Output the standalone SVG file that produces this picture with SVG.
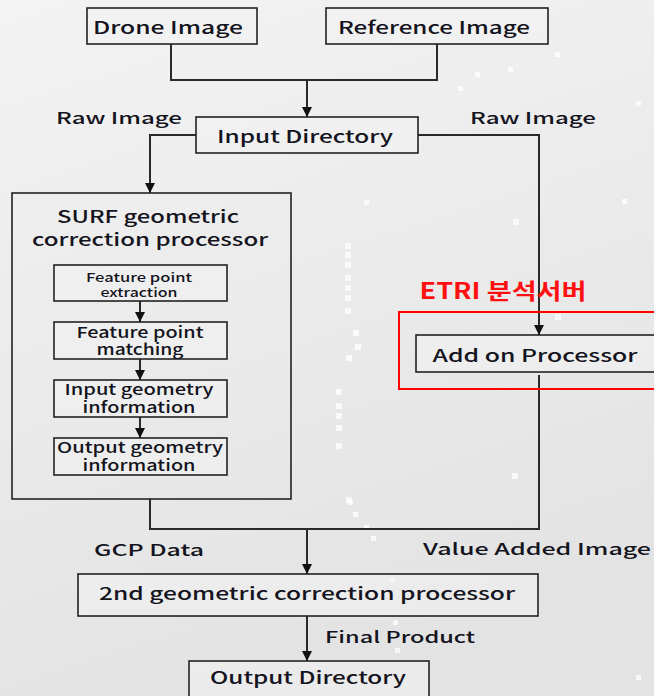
<svg xmlns="http://www.w3.org/2000/svg" width="654" height="696" viewBox="0 0 654 696">
  <defs>
    <linearGradient id="bg" x1="0" y1="0" x2="0.3" y2="1">
      <stop offset="0" stop-color="#f3f3f3"/>
      <stop offset="1" stop-color="#e3e3e3"/>
    </linearGradient>
    <marker id="arrow" viewBox="0 0 10 10" refX="10" refY="5" markerWidth="10" markerHeight="10" markerUnits="userSpaceOnUse" orient="auto">
      <path d="M0,0 L10,5 L0,10 Z" fill="#111"/>
    </marker>
    <style>
      .box { fill: #f2f2f2; fill-opacity: 0.55; stroke: #222; stroke-width: 1.6; }
      .frame { fill: none; stroke: #222; stroke-width: 1.6; }
      .wire { fill: none; stroke: #2a2a2a; stroke-width: 2; }
      .t { font-family: "Noto Sans CJK KR", "Liberation Sans", sans-serif; font-weight: 500; fill: #141420; text-anchor: middle; dominant-baseline: central; }
      .lg { font-size: 17px; }
      .md { font-size: 16px; }
      .nb { font-size: 15px; }
      .sm { font-size: 12px; }
      .red { font-family: "Noto Sans CJK KR", "Liberation Sans", sans-serif; font-weight: bold; font-size: 22px; fill: #ff1010; text-anchor: middle; dominant-baseline: central; }
      .dot { fill: #ffffff; opacity: 0.75; }
    </style>
  </defs>

  <!-- background with faint circuit-style dots on the right -->
  <rect width="654" height="696" fill="url(#bg)"/>
  <g id="decor">
    <rect class="dot" x="345" y="243" width="6" height="6"/>
    <rect class="dot" x="345" y="252" width="6" height="6"/>
    <rect class="dot" x="345" y="262" width="6" height="6"/>
    <rect class="dot" x="345" y="275" width="6" height="6"/>
    <rect class="dot" x="345" y="285" width="6" height="6"/>
    <rect class="dot" x="345" y="295" width="6" height="6"/>
    <rect class="dot" x="345" y="308" width="6" height="6"/>
    <rect class="dot" x="353" y="330" width="6" height="6"/>
    <rect class="dot" x="355" y="344" width="6" height="6"/>
    <rect class="dot" x="346" y="355" width="6" height="6"/>
    <rect class="dot" x="336" y="389" width="6" height="6"/>
    <rect class="dot" x="336" y="403" width="6" height="6"/>
    <rect class="dot" x="336" y="413" width="6" height="6"/>
    <rect class="dot" x="336" y="425" width="6" height="6"/>
    <rect class="dot" x="336" y="443" width="6" height="6"/>
    <rect class="dot" x="346" y="497" width="6" height="6"/>
    <rect class="dot" x="513" y="219" width="6" height="6"/>
    <rect class="dot" x="555" y="314" width="6" height="6"/>
    <rect class="dot" x="512" y="473" width="6" height="6"/>
    <rect class="dot" x="348" y="500" width="5" height="5"/>
    <rect class="dot" x="353" y="512" width="5" height="5"/>
    <rect class="dot" x="364" y="525" width="5" height="5"/>
    <rect class="dot" x="371" y="536" width="5" height="5"/>
    <rect class="dot" x="390" y="577" width="5" height="5"/>
    <rect class="dot" x="393" y="620" width="5" height="5"/>
    <rect class="dot" x="395" y="648" width="5" height="5"/>
    <rect class="dot" x="364" y="200" width="5" height="5"/>
    <rect class="dot" x="458" y="86" width="5" height="5"/>
    <rect class="dot" x="475" y="72" width="5" height="5"/>
    <rect class="dot" x="508" y="67" width="5" height="5"/>
    <rect class="dot" x="555" y="52" width="5" height="5"/>
    <rect class="dot" x="636" y="101" width="5" height="5"/>
    <rect class="dot" x="622" y="199" width="5" height="5"/>
    <rect class="dot" x="636" y="675" width="5" height="5"/>
  </g>

  <!-- connectors -->
  <g id="connectors">
    <polyline class="wire" points="171,44 171,80 437,80 437,44"/>
    <line class="wire" x1="307" y1="80" x2="307" y2="117" marker-end="url(#arrow)"/>
    <polyline class="wire" points="196,135 150,135 150,193" marker-end="url(#arrow)"/>
    <polyline class="wire" points="418,135 539,135 539,335" marker-end="url(#arrow)"/>
    <line class="wire" x1="140" y1="301" x2="140" y2="322" marker-end="url(#arrow)"/>
    <line class="wire" x1="140" y1="359" x2="140" y2="380" marker-end="url(#arrow)"/>
    <line class="wire" x1="140" y1="417" x2="140" y2="438" marker-end="url(#arrow)"/>
    <polyline class="wire" points="150,499 150,529 539,529 539,375"/>
    <line class="wire" x1="307" y1="529" x2="307" y2="574" marker-end="url(#arrow)"/>
    <line class="wire" x1="307" y1="616" x2="307" y2="661" marker-end="url(#arrow)"/>
  </g>

  <!-- edge labels -->
  <g id="labels">
    <text class="t md" x="119" y="117" textLength="126" lengthAdjust="spacingAndGlyphs">Raw Image</text>
    <text class="t md" x="533" y="117" textLength="126" lengthAdjust="spacingAndGlyphs">Raw Image</text>
    <text class="t md" x="149" y="549" textLength="110" lengthAdjust="spacingAndGlyphs">GCP  Data</text>
    <text class="t md" x="537" y="548" textLength="228" lengthAdjust="spacingAndGlyphs">Value  Added  Image</text>
    <text class="t md" x="400" y="636" textLength="150" lengthAdjust="spacingAndGlyphs">Final Product</text>
  </g>

  <g id="drone-image">
    <rect class="box" x="87" y="8" width="170" height="36"/>
    <text class="t lg" x="168" y="26" textLength="150" lengthAdjust="spacingAndGlyphs">Drone  Image</text>
  </g>

  <g id="reference-image">
    <rect class="box" x="326" y="8" width="222" height="36"/>
    <text class="t lg" x="434" y="26" textLength="192" lengthAdjust="spacingAndGlyphs">Reference  Image</text>
  </g>

  <g id="input-directory">
    <rect class="box" x="196" y="117" width="222" height="36"/>
    <text class="t lg" x="305" y="135" textLength="176" lengthAdjust="spacingAndGlyphs">Input  Directory</text>
  </g>

  <g id="surf-processor">
    <rect class="frame" x="12" y="193" width="279" height="306"/>
    <text class="t lg" x="148" y="215" textLength="182" lengthAdjust="spacingAndGlyphs">SURF geometric</text>
    <text class="t lg" x="150" y="238" textLength="236" lengthAdjust="spacingAndGlyphs">correction  processor</text>
  </g>

  <g id="feature-extraction">
    <rect class="box" x="54" y="265" width="173" height="36"/>
    <text class="t sm" x="139" y="276" textLength="106" lengthAdjust="spacingAndGlyphs">Feature point</text>
    <text class="t sm" x="139" y="291" textLength="77" lengthAdjust="spacingAndGlyphs">extraction</text>
  </g>

  <g id="feature-matching">
    <rect class="box" x="54" y="322" width="173" height="37"/>
    <text class="t nb" x="140" y="331" textLength="127" lengthAdjust="spacingAndGlyphs">Feature point</text>
    <text class="t nb" x="140" y="348" textLength="87" lengthAdjust="spacingAndGlyphs">matching</text>
  </g>

  <g id="input-geometry">
    <rect class="box" x="54" y="380" width="173" height="37"/>
    <text class="t nb" x="139" y="388" textLength="149" lengthAdjust="spacingAndGlyphs">Input geometry</text>
    <text class="t nb" x="139" y="406" textLength="113" lengthAdjust="spacingAndGlyphs">information</text>
  </g>

  <g id="output-geometry">
    <rect class="box" x="54" y="438" width="173" height="37"/>
    <text class="t nb" x="140" y="446" textLength="166" lengthAdjust="spacingAndGlyphs">Output geometry</text>
    <text class="t nb" x="139" y="464" textLength="113" lengthAdjust="spacingAndGlyphs">information</text>
  </g>

  <g id="etri-server">
    <rect x="399" y="312" width="260" height="77" fill="none" stroke="#ff0000" stroke-width="2"/>
    <text class="red" x="503" y="289" textLength="167" lengthAdjust="spacingAndGlyphs">ETRI 분석서버</text>
  </g>

  <g id="add-on-processor">
    <rect class="box" x="416" y="335" width="250" height="37"/>
    <text class="t lg" x="535" y="354" textLength="205" lengthAdjust="spacingAndGlyphs">Add  on  Processor</text>
  </g>

  <g id="second-correction">
    <rect class="box" x="78" y="574" width="460" height="42"/>
    <text class="t lg" x="307" y="592" textLength="416" lengthAdjust="spacingAndGlyphs">2nd  geometric  correction  processor</text>
  </g>

  <g id="output-directory">
    <rect class="box" x="189" y="661" width="240" height="50"/>
    <text class="t lg" x="308" y="676" textLength="196" lengthAdjust="spacingAndGlyphs">Output  Directory</text>
  </g>
</svg>
